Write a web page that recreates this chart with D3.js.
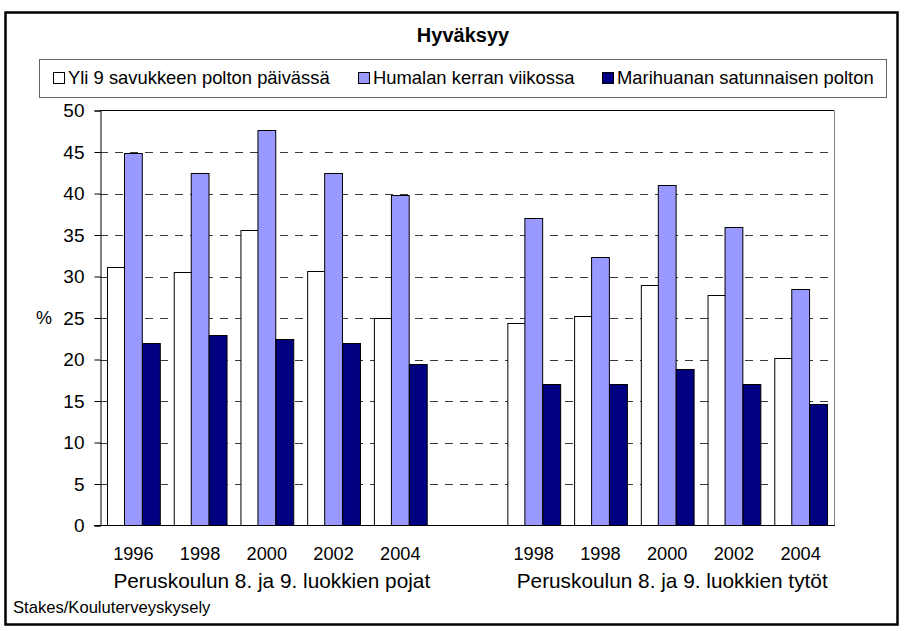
<!DOCTYPE html>
<html>
<head>
<meta charset="utf-8">
<script src="https://cdn.jsdelivr.net/npm/d3@7"></script>
<style>
  body { margin: 0; background: #fff; }
  svg { font-family: "Liberation Sans", Arial, sans-serif; }
</style>
</head>
<body>
<div id="chart"></div>
<script>
// values
const years = ['1996', '1998', '2000', '2002', '2004', '', '1998', '1998', '2000', '2002', '2004'];
const smoking = [31.1, 30.6, 35.6, 30.7, 25.0, null, 24.4, 25.3, 29.0, 27.8, 20.2];
const drinking = [44.9, 42.5, 47.6, 42.5, 39.8, null, 37.0, 32.3, 41.0, 36.0, 28.5];
const cannabis = [22.0, 22.9, 22.5, 22.0, 19.4, null, 17.0, 17.0, 18.8, 17.0, 14.6];
const seriesNames = ['Yli 9 savukkeen polton päivässä', 'Humalan kerran viikossa', 'Marihuanan satunnaisen polton'];
const groups = [
  {label: 'Peruskoulun 8. ja 9. luokkien pojat', from: 0, to: 4},
  {label: 'Peruskoulun 8. ja 9. luokkien tytöt', from: 6, to: 10}
];
const yTicks = [0, 5, 10, 15, 20, 25, 30, 35, 40, 45, 50];

const W = 905, H = 631;
const plot = {left: 100, right: 834, top: 110.5, bottom: 525.5};
const colors = ['#ffffff', '#9999ff', '#000080'];
const seriesValues = [smoking, drinking, cannabis];

const svg = d3.select('#chart').append('svg')
    .attr('width', W)
    .attr('height', H);

// outer frame
svg.append('rect')
    .attr('x', 5.5).attr('y', 12.5)
    .attr('width', 892).attr('height', 612)
    .attr('fill', '#fff')
    .attr('stroke', '#000')
    .attr('stroke-width', 2.5);

svg.append('text')
    .attr('x', 463).attr('y', 42)
    .attr('text-anchor', 'middle')
    .attr('font-size', 20)
    .attr('font-weight', 'bold')
    .text('Hyväksyy');

const x = d3.scaleBand()
    .domain(d3.range(years.length))
    .range([plot.left, plot.right]);

const xInner = d3.scaleBand()
    .domain(d3.range(seriesNames.length))
    .range([0, x.bandwidth()])
    .paddingOuter(0.375);

const y = d3.scaleLinear()
    .domain([0, 50])
    .range([plot.bottom, plot.top]);

// gridlines
svg.append('g')
  .selectAll('line')
  .data(yTicks.filter(d => d > 0 && d < 50))
  .join('line')
    .attr('x1', plot.left).attr('x2', plot.right)
    .attr('y1', d => Math.round(y(d)) + 0.5)
    .attr('y2', d => Math.round(y(d)) + 0.5)
    .attr('stroke', '#3a3a3a')
    .attr('stroke-dasharray', '8,7');

// plot frame: top black, right gray
svg.append('line')
    .attr('x1', plot.left).attr('x2', plot.right)
    .attr('y1', plot.top).attr('y2', plot.top)
    .attr('stroke', '#000');
svg.append('line')
    .attr('x1', plot.right + 0.5).attr('x2', plot.right + 0.5)
    .attr('y1', plot.top).attr('y2', plot.bottom)
    .attr('stroke', '#808080');

// bars
const slots = svg.append('g')
  .selectAll('g')
  .data(d3.range(years.length).filter(i => smoking[i] != null))
  .join('g')
    .attr('transform', i => `translate(${x(i)},0)`);

slots.selectAll('rect')
  .data(i => seriesValues.map((vals, s) => ({s, v: vals[i]})))
  .join('rect')
    .attr('x', d => Math.round(xInner(d.s)) + 0.5)
    .attr('width', xInner.bandwidth())
    .attr('y', d => Math.round(y(d.v)) + 0.5)
    .attr('height', d => plot.bottom - Math.round(y(d.v)) - 0.5)
    .attr('fill', d => colors[d.s])
    .attr('stroke', '#000')
    .attr('stroke-width', 1);

// y axis
const yAxis = svg.append('g')
    .attr('transform', `translate(${plot.left + 0.5},0)`)
    .call(d3.axisLeft(y).tickValues(yTicks).tickSize(6).tickPadding(10));
yAxis.select('.domain').attr('stroke', '#000');
yAxis.selectAll('.tick line').attr('stroke', '#000');
yAxis.selectAll('.tick text')
    .attr('font-size', 19)
    .attr('font-family', '"Liberation Sans", Arial, sans-serif')
    .attr('fill', '#000');

svg.append('text')
    .attr('x', 44).attr('y', y(25))
    .attr('dy', '0.35em')
    .attr('text-anchor', 'middle')
    .attr('font-size', 18)
    .text('%');

// x axis
svg.append('line')
    .attr('x1', plot.left - 6).attr('x2', plot.right + 1)
    .attr('y1', plot.bottom).attr('y2', plot.bottom)
    .attr('stroke', '#000');

svg.append('g')
  .selectAll('text')
  .data(d3.range(years.length))
  .join('text')
    .attr('x', i => x(i) + x.bandwidth() / 2)
    .attr('y', 560)
    .attr('text-anchor', 'middle')
    .attr('font-size', 18.2)
    .text(i => years[i]);

svg.append('g')
  .selectAll('text')
  .data(groups)
  .join('text')
    .attr('x', d => (x(d.from) + x(d.to) + x.bandwidth()) / 2 + 5)
    .attr('y', 588)
    .attr('text-anchor', 'middle')
    .attr('font-size', 20.8)
    .text(d => d.label);

// legend
const legend = svg.append('g');
legend.append('rect')
    .attr('x', 39.5).attr('y', 59.5)
    .attr('width', 847).attr('height', 38)
    .attr('fill', '#fff')
    .attr('stroke', '#666');

const legendX = [53, 358, 602];
const items = legend.selectAll('g.item')
  .data(seriesNames)
  .join('g')
    .attr('class', 'item')
    .attr('transform', (d, i) => `translate(${legendX[i]},78)`);
items.append('rect')
    .attr('x', 0.5).attr('y', -5.5)
    .attr('width', 11).attr('height', 11)
    .attr('fill', (d, i) => colors[i])
    .attr('stroke', '#000');
items.append('text')
    .attr('x', 15)
    .attr('dy', '0.35em')
    .attr('font-size', 18.4)
    .text(d => d);

svg.append('text')
    .attr('x', 13).attr('y', 613)
    .attr('font-size', 16.6)
    .text('Stakes/Kouluterveyskysely');
</script>
</body>
</html>
